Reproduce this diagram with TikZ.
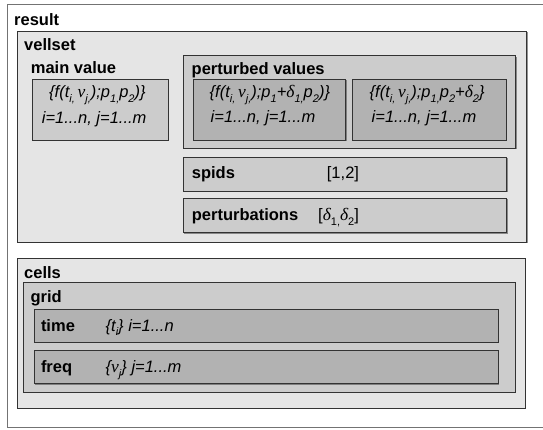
\documentclass[tikz,border=0pt]{standalone}
\usepackage{fontspec}
\setmainfont{Liberation Sans}
\newfontfamily\grkfont{Liberation Serif}
\usetikzlibrary{shadows}
\newcommand\sbs[1]{\raisebox{-0.3em}{\fontsize{11}{11}\selectfont #1}}
\newcommand\gk[1]{{\fontsize{17.5}{19}\grkfont\itshape #1}}
\tikzset{
  outerbox/.style={draw=black!55, line width=1pt, fill=white},
  boxbase/.style={draw=black!80, line width=0.9pt,
    drop shadow={shadow xshift=1pt, shadow yshift=-1pt, fill=black!70, opacity=0.6}},
  lightbox/.style={boxbase, fill=black!10},
  midbox/.style={boxbase, fill=black!20},
  darkbox/.style={boxbase, fill=black!30},
  lbl/.style={font=\fontsize{16.5}{19}\selectfont\bfseries, inner sep=0pt, anchor=base west},
  txt/.style={font=\fontsize{16.5}{19}\selectfont, inner sep=0pt, anchor=base west},
  itxt/.style={font=\fontsize{16.5}{19}\selectfont\itshape, inner sep=0pt, anchor=base west},
}
\begin{document}
\begin{tikzpicture}[x=1pt,y=-1pt]
\useasboundingbox (0,0) rectangle (543,430);
\clip (0,0) rectangle (543,430);
% result
\draw[outerbox] (7,4.5) rectangle (570,427.5);
\node[lbl] (lresult) at (14,25.5) {result};
% vellset
\draw[lightbox] (17.3,31) rectangle (526.5,242);
\node[lbl] (lvellset) at (24,51) {vellset};
% main value
\node[lbl] (lmain) at (30.7,74) {main value};
\draw[midbox] (32.3,79.5) rectangle (168.3,140);
\node[itxt] (mainf) at (49,97.5) {\{f(t\sbs{i,}\,\gk{ν}\sbs{j,});p\sbs{1,}p\sbs{2})\}};
\node[itxt] (maini) at (41.7,123.5) {i=1...n, j=1...m};
% perturbed values
\draw[midbox] (183.3,55.7) rectangle (515.5,148);
\node[lbl] (lpert) at (191.5,74.5) {perturbed values};
\draw[darkbox] (193.3,79.3) rectangle (345.7,140);
\node[itxt] (p1f) at (209.5,97.5) {\{f(t\sbs{i,}\,\gk{ν}\sbs{j,});p\sbs{1}+\gk{δ}\sbs{1,}p\sbs{2})\}};
\node[itxt] (p1i) at (210.5,123) {i=1...n, j=1...m};
\draw[darkbox] (352.3,79.3) rectangle (506,140);
\node[itxt] (p2f) at (369.5,97.5) {\{f(t\sbs{i,}\,\gk{ν}\sbs{j,});p\sbs{1,}p\sbs{2}+\gk{δ}\sbs{2}\}};
\node[itxt] (p2i) at (371.5,123) {i=1...n, j=1...m};
% spids
\draw[midbox] (183.3,157.3) rectangle (506.7,191);
\node[lbl] (lspids) at (191.7,179) {spids};
\node[txt] (vspids) at (326.7,179) {[1,2]};
% perturbations
\draw[midbox] (183.3,198.5) rectangle (506.7,232.7);
\node[lbl] (lperts) at (191.7,221) {perturbations};
\node[txt] (vperts) at (318,221) {[\gk{δ}\sbs{1,}\gk{δ}\sbs{2}]};
% cells
\draw[lightbox] (17.3,258.5) rectangle (525,408);
\node[lbl] (lcells) at (24,278) {cells};
\draw[midbox] (23.5,282.5) rectangle (515,392);
\node[lbl] (lgrid) at (30.4,302) {grid};
\draw[darkbox] (34,309) rectangle (498,342);
\node[lbl] (ltime) at (40.8,331) {time};
\node[itxt] (vtime) at (105.5,331) {\{t\sbs{i}\} i=1...n};
\draw[darkbox] (34,350) rectangle (498,383.5);
\node[lbl] (lfreq) at (40.8,372.5) {freq};
\node[itxt] (vfreq) at (105.5,372.5) {\{\gk{ν}\sbs{j}\} j=1...m};
\end{tikzpicture}
\end{document}
